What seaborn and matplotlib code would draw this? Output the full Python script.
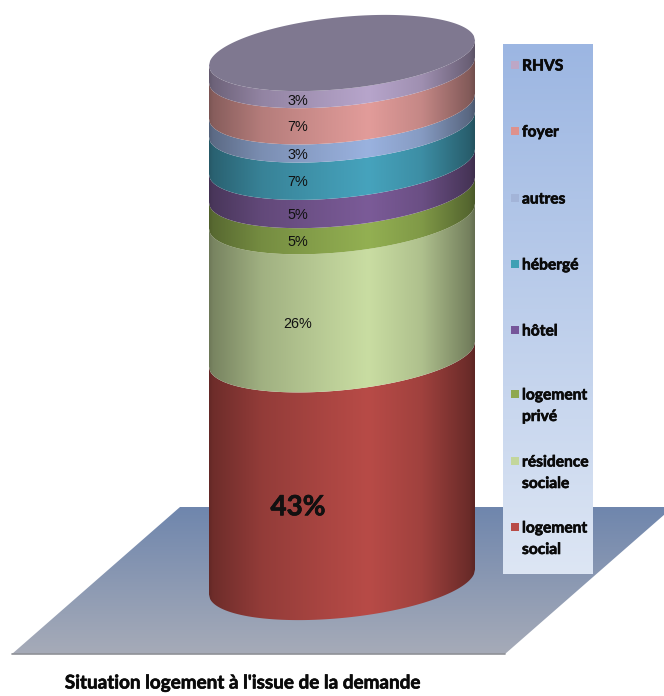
import numpy as np
import pandas as pd
import matplotlib
matplotlib.use("Agg")
import matplotlib.pyplot as plt
import matplotlib.patheffects as pe
from matplotlib.colors import to_rgb
from matplotlib.patches import Polygon, Rectangle
import seaborn as sns

categories = ["logement\nsocial", "résidence\nsociale", "logement\nprivé", "hôtel",
              "hébergé", "autres", "foyer", "RHVS"]
shares = [42.7, 25.9, 4.9, 5.3, 7.0, 3.4, 6.8, 3.2]
colors = ["#b84b47", "#c9dda2", "#93b052", "#7b5b98", "#46a3bd", "#9ab2df", "#e29c9a", "#b7a5cb"]
legend_colors = ["#b84b47", "#c3d69b", "#8fa84f", "#76569a", "#3fa0b4", "#a3b4d8", "#de918c", "#bda7c6"]
title = "Situation logement à l'issue de la demande"

W, H = 664, 696
CX, HALF_W = 342, 133
Y0_PX, Y1_PX = 582, 53
SKEW_PX, MINOR_PX = 12.5, 36

sns.set_theme(style="white")
NARROW = ["Lato", "DejaVu Sans"]
THICK = [pe.withStroke(linewidth=0.45, foreground="#0a0a0a")]

fig = plt.figure(figsize=(W / 100, H / 100), dpi=100)
ax = fig.add_axes([0, 0, 1, 1])

# stacked bars through seaborn: their geometry drives the cylinder
bottom = 0.0
for cat, val in zip(categories, shares):
    df = pd.DataFrame({"g": [""], "v": [val]})
    sns.barplot(data=df, x="g", y="v", bottom=bottom, width=1.0, color="gray",
                errorbar=None, ax=ax)
    bottom += val
bars = list(ax.patches)
total = bottom

unit_px = (Y0_PX - Y1_PX) / total
ax.set_xlim((0 - CX) / (2 * HALF_W), (W - CX) / (2 * HALF_W))
ax.set_ylim((Y0_PX - H) / unit_px, Y0_PX / unit_px)
ax.axis("off")
xlim, ylim = ax.get_xlim(), ax.get_ylim()


def X(px):
    return (px - CX) / (2 * HALF_W)


def Y(py):
    return (Y0_PX - py) / unit_px


u = np.linspace(-1, 1, 241)
prof_u = [-1.0, -0.97, -0.6, -0.1, 0.2, 0.6, 0.96, 1.0]
prof_v = [0.54, 0.60, 0.80, 0.93, 1.0, 0.87, 0.58, 0.50]
shade = np.interp(np.linspace(-1, 1, 400), prof_u, prof_v)

# floor
floor_img = np.linspace(to_rgb("#6f86ad"), to_rgb("#a6abb8"), 200)[:, None, :]
floor_poly = Polygon([(X(12), Y(654)), (X(180), Y(507)), (X(673), Y(507)), (X(505), Y(654))],
                     closed=True, transform=ax.transData, fc="none", ec="none")
ax.add_patch(floor_poly)
im = ax.imshow(floor_img, extent=(X(0), X(W), Y(654), Y(507)), aspect="auto",
               interpolation="bilinear", zorder=1)
im.set_clip_path(floor_poly)
ax.plot([X(12), X(505)], [Y(654), Y(654)], color="#8f9197", lw=1.2, zorder=1.1)


def front(y):
    return y + (SKEW_PX * u - MINOR_PX * np.sqrt(1 - u ** 2)) / unit_px


def back(y):
    return y + (SKEW_PX * u + MINOR_PX * np.sqrt(1 - u ** 2)) / unit_px


# cylinder bands
for i, (bar, col) in enumerate(zip(bars, colors)):
    bar.set_visible(False)
    lo, hi = bar.get_y(), bar.get_y() + bar.get_height()
    xs = bar.get_x() + bar.get_width() * (u + 1) / 2
    pts = np.r_[np.c_[xs, front(lo)], np.c_[xs[::-1], front(hi)[::-1]]]
    band = Polygon(pts, closed=True, transform=ax.transData, fc="none", ec="none")
    ax.add_patch(band)
    img = (np.array(to_rgb(col))[None, None, :] * shade[None, :, None]).clip(0, 1)
    ymin, ymax = front(lo).min() - 1, front(hi).max() + 1
    m = ax.imshow(img, extent=(bar.get_x(), bar.get_x() + bar.get_width(), ymin, ymax),
                  aspect="auto", interpolation="bilinear", zorder=2 + i * 0.01)
    m.set_clip_path(band)
    value_label = f"{round(bar.get_height())}%"
    ymid = (lo + hi) / 2 + (SKEW_PX * -0.33 - MINOR_PX * np.sqrt(1 - 0.33 ** 2) - 1) / unit_px
    big = i == 0
    t = ax.text(X(298), ymid, value_label, ha="center", va="center", zorder=4,
                color="#111111", fontweight="bold" if big else "normal",
                fontsize=20 if big else 10.4,
                family=NARROW if big else ["Liberation Sans", "DejaVu Sans"])
    if big:
        t.set_path_effects(THICK)

# top cap
top_xs = X(CX) + 0.5 * u
cap_pts = np.r_[np.c_[top_xs, front(total)], np.c_[top_xs[::-1], back(total)[::-1]]]
ax.add_patch(Polygon(cap_pts, closed=True, fc="#7f7890", ec="none", zorder=3))

# legend panel
panel_img = np.linspace(to_rgb("#9cb6e2"), to_rgb("#dde6f4"), 200)[:, None, :]
ax.imshow(panel_img, extent=(X(503), X(593), Y(574), Y(44)), aspect="auto",
          interpolation="bilinear", zorder=5)
rows_px = [527, 461, 394, 330, 264, 198, 131, 65]
for cat, col, py in zip(categories, legend_colors, rows_px):
    ax.add_patch(Rectangle((X(511), Y(py + 4)), X(519) - X(511), Y(py - 4) - Y(py + 4),
                           fc=col, ec="none", zorder=6))
    ax.text(X(522), Y(py - 5.5), cat, ha="left", va="top", fontsize=11.2, fontweight="bold",
            family=NARROW, color="#0a0a0a", linespacing=1.68, zorder=6,
            path_effects=THICK)

ax.text(X(243), Y(683), title, ha="center", va="center", fontsize=13.6, fontweight="bold",
        family=NARROW, color="#0a0a0a", zorder=6, path_effects=THICK)

ax.set_xlim(xlim)
ax.set_ylim(ylim)
fig.savefig("out.png", dpi=100, facecolor="white")
